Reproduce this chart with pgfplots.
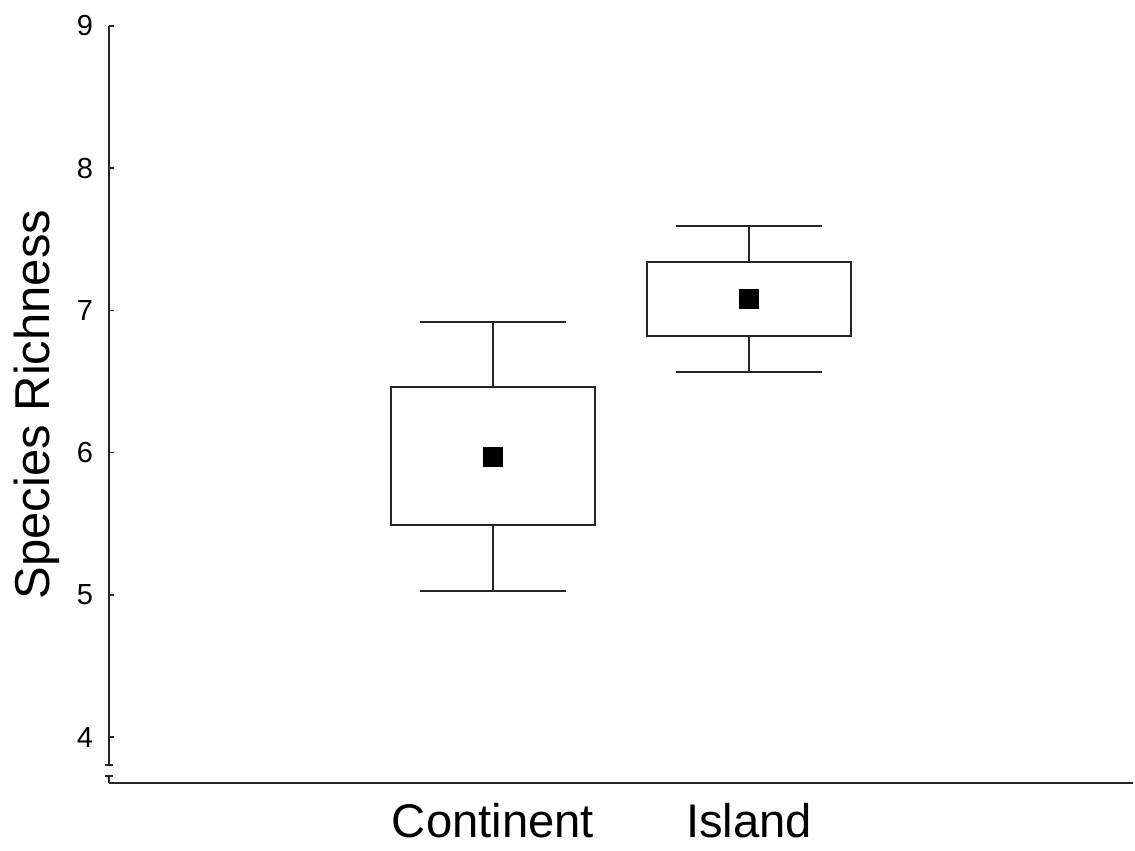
\documentclass[border=0pt]{standalone}
\usepackage{fontspec}
\setmainfont{Liberation Sans}
\usepackage{pgfplots}
\pgfplotsset{compat=1.18}
\usepgfplotslibrary{statistics}
\begin{document}
\begin{tikzpicture}
\useasboundingbox (-54.5pt,-34pt) rectangle (513pt,391.5pt);
\begin{axis}[
  at={(0,0)}, anchor=south west,
  scale only axis,
  width=512pt, height=378.5pt,
  xmin=-0.5, xmax=3.5,
  ymin=3.677, ymax=9,
  axis x line=bottom, axis y line=left,
  axis line style={-, line width=1pt, black!85},
  tick align=inside,
  major tick length=2.5pt,
  tick style={line width=0.8pt, black!85},
  xtick={1,2},
  xticklabels={Continent, Island},
  xtick style={draw=none},
  ytick={4,5,6,7,8,9},
  /pgf/number format/assume math mode=true,
  yticklabel style={font=\fontsize{14.5}{16}\selectfont, anchor=east, xshift=-4.5pt},
  xticklabel style={font=\fontsize{23.6}{26}\selectfont, anchor=base, yshift=-27pt},
  ylabel={Species Richness},
  every axis y label/.style={at={([xshift=-29.5pt]axis description cs:0,0.5)}, rotate=90, anchor=base, font=\fontsize{24.5}{28}\selectfont},
  clip=false,
  boxplot/draw direction=y,
]
\addplot[black!85, line width=1pt, fill=white,
  boxplot prepared={draw position=1,
    lower whisker=5.027, lower quartile=5.491, median=5.491,
    upper quartile=6.461, upper whisker=6.918,
    box extend=0.794, whisker extend=0.572}]
  coordinates {};
\addplot[black!85, line width=1pt, fill=white,
  boxplot prepared={draw position=2,
    lower whisker=6.567, lower quartile=6.820, median=6.820,
    upper quartile=7.340, upper whisker=7.594,
    box extend=0.794, whisker extend=0.572}]
  coordinates {};
\addplot[only marks, mark=square*, mark size=4.6pt, mark options={fill=black, draw=black}]
  coordinates {(1,5.969) (2,7.08)};
% axis break marks
\fill[white] ([xshift=-3pt]axis cs:-0.5,3.726) rectangle ([xshift=3pt]axis cs:-0.5,3.803);
\draw[black!85, line width=0.8pt] ([xshift=-2.2pt]axis cs:-0.5,3.803) -- ([xshift=2.2pt]axis cs:-0.5,3.803);
\draw[black!85, line width=0.8pt] ([xshift=-2.2pt]axis cs:-0.5,3.726) -- ([xshift=2.2pt]axis cs:-0.5,3.726);
\end{axis}
\end{tikzpicture}
\end{document}
